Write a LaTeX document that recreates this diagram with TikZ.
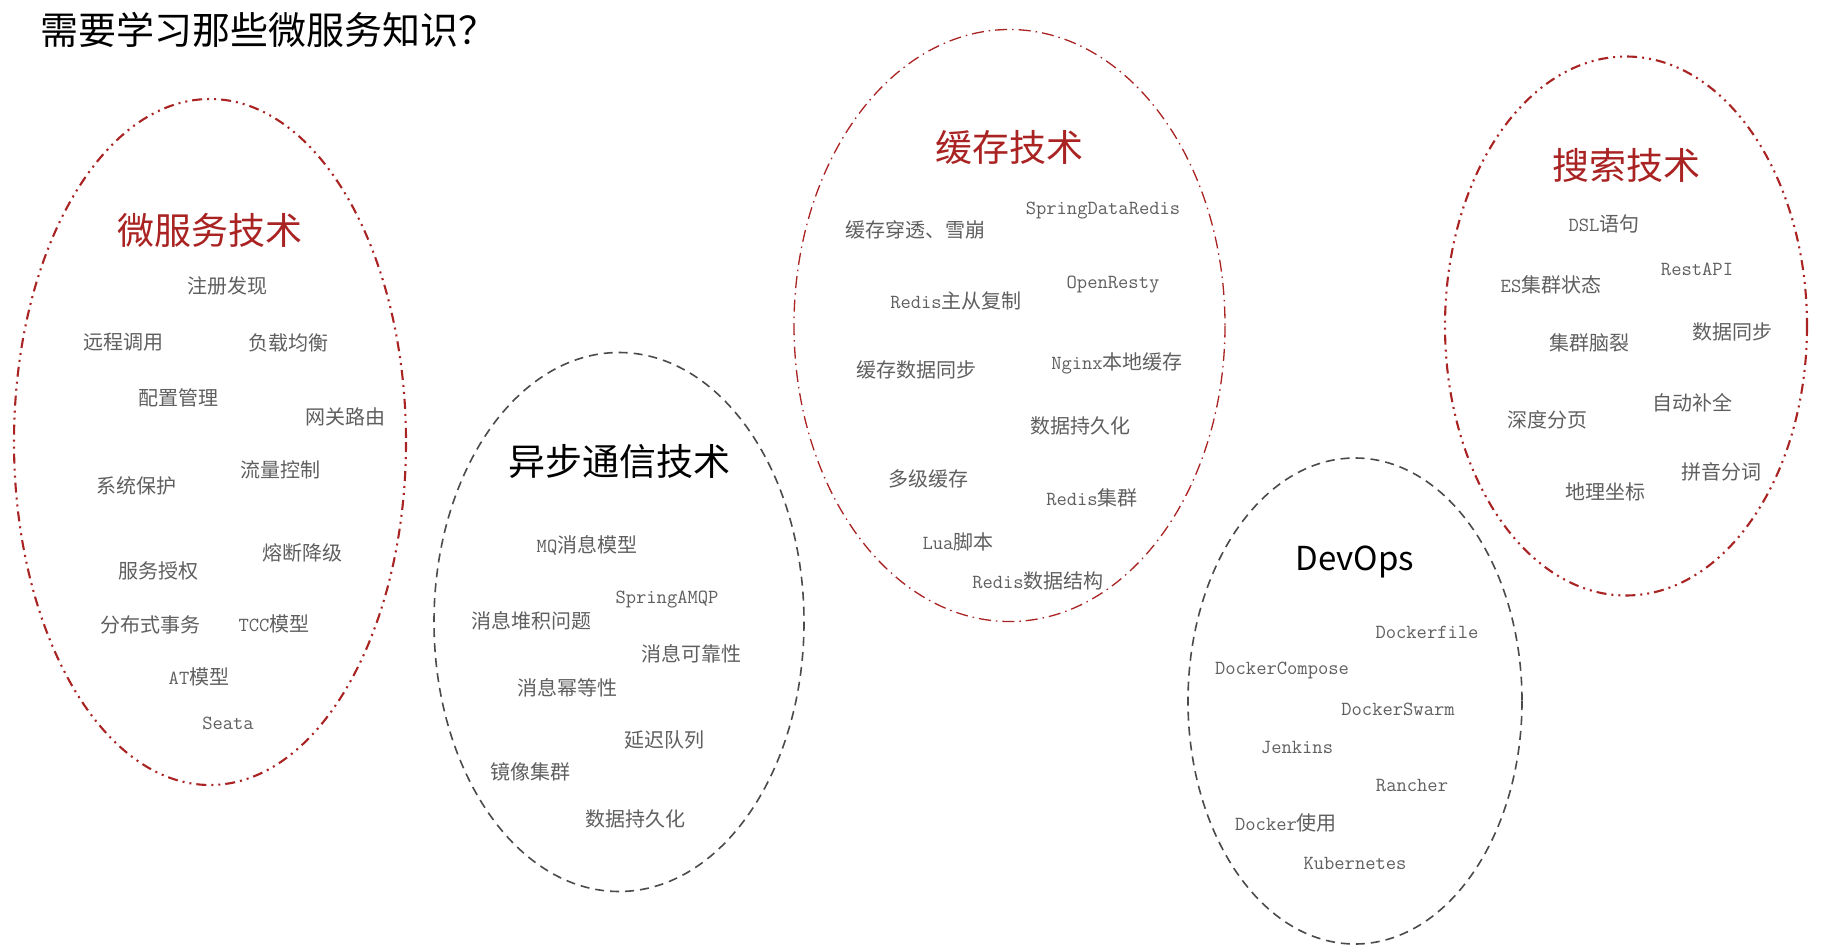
\documentclass[tikz,border=0pt]{standalone}
\usepackage{fontspec}
\newfontfamily\cjk{Noto Sans CJK SC}
\definecolor{redline}{RGB}{170,35,35}
\definecolor{redtitle}{RGB}{170,35,35}
\definecolor{grayline}{RGB}{75,75,75}
\definecolor{itemgray}{RGB}{95,95,95}
\tikzset{
  redA/.style={draw=redline, line width=2.1pt, dash pattern=on 10pt off 5pt on 2pt off 5pt on 2pt off 5pt},
  redB/.style={draw=redline, line width=1.3pt, dash pattern=on 12pt off 5pt on 1.5pt off 5pt},
  grayD/.style={draw=grayline, line width=1.6pt, dash pattern=on 9pt off 6pt},
  item/.style={inner sep=0pt, text=itemgray, font=\cjk\fontsize{20}{24}\selectfont},
  rtitle/.style={inner sep=0pt, text=redtitle, font=\cjk\fontsize{37}{42}\selectfont},
  btitle/.style={inner sep=0pt, text=black, font=\cjk\fontsize{37}{42}\selectfont},
}
\newcommand{\lt}[1]{{\ttfamily #1}}
\begin{document}
\begin{tikzpicture}[x=1pt,y=-1pt]
\useasboundingbox (0,0) rectangle (1825,952);
\fill[white] (0,0) rectangle (1825,952);

\node[anchor=west, inner sep=0pt, font=\cjk\fontsize{38}{44}\selectfont] (main) at (40,30) {需要学习那些微服务知识？};

% ellipse 1
\draw[redA] (210,442) ellipse [x radius=196, y radius=343];
\node[rtitle] (t1) at (210,230) {微服务技术};
\node[item] (a1) at (227,286) {注册发现};
\node[item] (a2) at (123,342) {远程调用};
\node[item] (a3) at (288,343) {负载均衡};
\node[item] (a4) at (178,398) {配置管理};
\node[item] (a5) at (345,417) {网关路由};
\node[item] (a6) at (280,470) {流量控制};
\node[item] (a7) at (136,486) {系统保护};
\node[item] (a8) at (302,553) {熔断降级};
\node[item] (a9) at (158,571) {服务授权};
\node[item] (a10) at (150,625) {分布式事务};
\node[item] (a11) at (274,624) {\lt{TCC}模型};
\node[item] (a12) at (199,677) {\lt{AT}模型};
\node[item] (a13) at (228,723) {\lt{Seata}};

% ellipse 2
\draw[grayD] (619,622) ellipse [x radius=185, y radius=269.5];
\node[btitle] (t2) at (619,461) {异步通信技术};
\node[item] (b1) at (587,545) {\lt{MQ}消息模型};
\node[item] (b2) at (667,600) {\lt{SpringAMQP}};
\node[item] (b3) at (531,621) {消息堆积问题};
\node[item] (b4) at (691,654) {消息可靠性};
\node[item] (b5) at (567,688) {消息幂等性};
\node[item] (b6) at (664,740) {延迟队列};
\node[item] (b7) at (530,772) {镜像集群};
\node[item] (b8) at (635,819) {数据持久化};

% ellipse 3
\draw[redB] (1009.5,325.5) ellipse [x radius=215.5, y radius=296];
\node[rtitle] (t3) at (1009,147) {缓存技术};
\node[item] (c1) at (915,230) {缓存穿透、雪崩};
\node[item] (c2) at (1103,211) {\lt{SpringDataRedis}};
\node[item] (c3) at (956,301) {\lt{Redis}主从复制};
\node[item] (c4) at (1113,284.5) {\lt{OpenResty}};
\node[item] (c5) at (916,370) {缓存数据同步};
\node[item] (c6) at (1117,363) {\lt{Nginx}本地缓存};
\node[item] (c7) at (1080,426) {数据持久化};
\node[item] (c8) at (928,479) {多级缓存};
\node[item] (c9) at (1092,498) {\lt{Redis}集群};
\node[item] (c10) at (958,542) {\lt{Lua}脚本};
\node[item] (c11) at (1038,581) {\lt{Redis}数据结构};

% ellipse 4
\draw[redA] (1626,326) ellipse [x radius=181, y radius=269.5];
\node[rtitle] (t4) at (1626,165) {搜索技术};
\node[item] (d1) at (1604,224) {\lt{DSL}语句};
\node[item] (d2) at (1697,269) {\lt{RestAPI}};
\node[item] (d3) at (1551,285) {\lt{ES}集群状态};
\node[item] (d4) at (1732,332) {数据同步};
\node[item] (d5) at (1589,343) {集群脑裂};
\node[item] (d6) at (1692,403) {自动补全};
\node[item] (d7) at (1547,419.5) {深度分页};
\node[item] (d8) at (1721,472) {拼音分词};
\node[item] (d9) at (1605,491.5) {地理坐标};

% ellipse 5
\draw[grayD] (1355,701) ellipse [x radius=167, y radius=243];
\node[inner sep=0pt, font=\cjk\fontsize{33}{38}\selectfont] (t5) at (1355,562) {DevOps};
\node[item] (e1) at (1427,632) {\lt{Dockerfile}};
\node[item] (e2) at (1282,670) {\lt{DockerCompose}};
\node[item] (e3) at (1398,709) {\lt{DockerSwarm}};
\node[item] (e4) at (1297,748) {\lt{Jenkins}};
\node[item] (e5) at (1412,786) {\lt{Rancher}};
\node[item] (e6) at (1286,823) {\lt{Docker}使用};
\node[item] (e7) at (1355,863) {\lt{Kubernetes}};
\end{tikzpicture}
\end{document}
